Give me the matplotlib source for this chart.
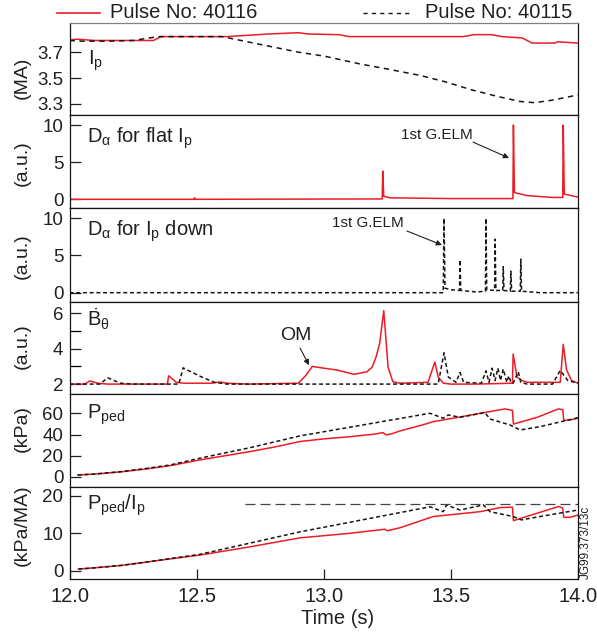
import matplotlib
matplotlib.use('Agg')
import matplotlib.pyplot as plt
from matplotlib.lines import Line2D

plt.rcParams['font.family'] = ['Liberation Sans', 'DejaVu Sans']
plt.rcParams['mathtext.fontset'] = 'custom'
plt.rcParams['mathtext.rm'] = 'Liberation Sans'
plt.rcParams['mathtext.it'] = 'Liberation Sans:italic'
plt.rcParams['mathtext.bf'] = 'Liberation Sans:bold'

RED = '#ed1c24'
BLK = '#151515'
TXT = '#231f20'

# ---- Ip (MA)
ip_40116_t = [12.0, 12.03, 12.10, 12.25, 12.33, 12.36, 12.62, 12.66, 12.74, 12.78, 12.84, 12.90,
              12.94, 13.06, 13.10, 13.55, 13.59, 13.66, 13.70, 13.78, 13.82, 13.91, 13.92, 14.0]
ip_40116_v = [3.795, 3.80, 3.79, 3.79, 3.79, 3.82, 3.82, 3.825, 3.835, 3.84, 3.845, 3.85,
              3.84, 3.835, 3.82, 3.82, 3.835, 3.835, 3.82, 3.81, 3.77, 3.77, 3.78, 3.77]
ip_40115_t = [12.0, 12.05, 12.15, 12.25, 12.35, 12.60, 12.70, 12.80, 12.90, 13.00, 13.14, 13.25,
              13.38, 13.48, 13.58, 13.68, 13.77, 13.83, 13.90, 14.0]
ip_40115_v = [3.79, 3.785, 3.785, 3.79, 3.82, 3.82, 3.78, 3.74, 3.70, 3.67, 3.61, 3.57,
              3.52, 3.47, 3.41, 3.36, 3.32, 3.31, 3.33, 3.37]

# ---- D alpha, flat Ip (40116)
da_flat_t = [12.0, 12.49, 12.492, 12.495, 13.23, 13.232, 13.236, 13.26, 13.50, 13.744, 13.746,
             13.75, 13.80, 13.90, 13.940, 13.942, 13.946, 13.96, 14.0]
da_flat_v = [0.0, 0.0, 0.2, 0.0, 0.05, 3.8, 0.4, 0.2, 0.1, 0.1, 10.0,
             0.9, 0.5, 0.25, 0.25, 10.0, 0.7, 0.6, 0.3]

# ---- D alpha, Ip down (40115)
da_down_t = [12.0, 13.470, 13.473, 13.477, 13.50, 13.534, 13.536, 13.539, 13.60, 13.636, 13.638,
             13.641, 13.672, 13.674, 13.677, 13.704, 13.706, 13.709, 13.734, 13.736, 13.739,
             13.773, 13.775, 13.778, 13.85, 14.0]
da_down_v = [0.0, 0.0, 10.0, 0.6, 0.4, 0.3, 4.4, 0.3, 0.1, 0.2, 10.0,
             0.4, 0.3, 7.2, 0.3, 0.3, 3.5, 0.3, 0.2, 2.9, 0.2,
             0.2, 4.5, 0.2, 0.0, 0.0]

# ---- B-dot theta (a.u.)
bd_40116_t = [12.0, 12.06, 12.08, 12.11, 12.15, 12.385, 12.39, 12.42, 12.45, 12.56, 12.59, 12.62,
              12.70, 12.90, 12.93, 12.955, 13.0, 13.05, 13.12, 13.17, 13.19, 13.205, 13.22, 13.236,
              13.253, 13.272, 13.30, 13.41, 13.437, 13.45, 13.47, 13.50, 13.60, 13.742, 13.745,
              13.76, 13.78, 13.80, 13.93, 13.942, 13.955, 13.975, 14.0]
bd_40116_v = [2.0, 2.0, 2.18, 2.05, 2.0, 2.0, 2.47, 2.1, 2.05, 2.05, 2.12, 2.05,
              2.0, 2.05, 2.5, 3.0, 2.9, 2.8, 2.55, 2.7, 2.95, 3.5, 4.3, 6.15,
              2.95, 2.13, 2.05, 2.1, 3.25, 2.4, 2.05, 2.0, 2.0, 2.05, 3.7,
              2.4, 2.2, 2.1, 2.1, 4.25, 2.8, 2.2, 2.05]
bd_40115_t = [12.0, 12.12, 12.15, 12.20, 12.25, 12.43, 12.447, 12.47, 12.52, 12.57, 12.62, 13.45,
              13.473, 13.49, 13.52, 13.536, 13.55, 13.62, 13.638, 13.65, 13.662, 13.674, 13.685,
              13.695, 13.706, 13.72, 13.728, 13.736, 13.745, 13.765, 13.775, 13.80, 13.90, 13.93,
              13.96, 14.0]
bd_40115_v = [2.0, 2.0, 2.36, 2.05, 2.0, 2.0, 2.92, 2.75, 2.4, 2.1, 2.0, 2.0,
              3.77, 2.4, 2.1, 2.66, 2.1, 2.05, 2.75, 2.1, 2.9, 2.2, 2.9,
              2.2, 2.85, 2.1, 2.47, 2.1, 2.05, 2.7, 2.1, 2.0, 2.0, 2.77,
              2.2, 2.05]

# ---- P_ped (kPa)
pp_40116_t = [12.033, 12.1, 12.2, 12.3, 12.395, 12.51, 12.61, 12.71, 12.81, 12.906, 13.0, 13.1,
              13.2, 13.233, 13.245, 13.27, 13.30, 13.40, 13.43, 13.52, 13.615, 13.713, 13.742,
              13.746, 13.84, 13.923, 13.940, 13.944, 13.97, 14.0]
pp_40116_v = [1.9, 2.8, 4.8, 7.5, 10.7, 16.0, 20.0, 24.0, 28.5, 33.5, 36.0, 38.0,
              40.5, 41.9, 39.7, 41.0, 43.5, 50.0, 52.3, 56.0, 60.2, 64.3, 63.0,
              50.0, 56.4, 64.3, 63.5, 53.5, 54.0, 55.5]
pp_40115_t = [12.033, 12.1, 12.2, 12.3, 12.395, 12.51, 12.71, 12.906, 13.418, 13.47, 13.49, 13.536,
              13.634, 13.654, 13.733, 13.772, 13.85, 14.0]
pp_40115_v = [1.9, 2.8, 5.0, 8.0, 11.3, 17.6, 27.7, 38.8, 60.2, 55.5, 58.6, 56.4,
              60.8, 54.8, 49.1, 44.4, 47.5, 56.0]

# ---- P_ped / Ip (kPa/MA)
pr_40116_t = [12.035, 12.1, 12.2, 12.3, 12.4, 12.513, 12.71, 12.906, 13.1, 13.24, 13.25, 13.30,
              13.43, 13.615, 13.694, 13.742, 13.746, 13.84, 13.91, 13.923, 13.940, 13.944, 13.97, 14.0]
pr_40116_v = [0.45, 0.8, 1.4, 2.3, 3.2, 4.2, 6.4, 8.8, 10.0, 11.1, 10.7, 11.5,
              14.5, 15.8, 16.9, 17.0, 13.4, 15.4, 16.9, 17.2, 16.8, 14.3, 14.3, 14.9]
pr_40115_t = [12.035, 12.1, 12.2, 12.3, 12.4, 12.513, 12.71, 12.906, 13.418, 13.47, 13.483, 13.536,
              13.628, 13.654, 13.745, 13.778, 13.85, 14.0]
pr_40115_v = [0.45, 0.8, 1.4, 2.3, 3.3, 4.4, 7.4, 10.4, 17.1, 15.8, 17.6, 16.25,
              17.6, 15.8, 14.5, 13.6, 14.5, 16.25]
pr_limit = 17.8
pr_limit_t = [12.69, 14.0]

W, H = 597, 641
fig = plt.figure(figsize=(W / 100, H / 100), dpi=100)

left, right = 69.5, 578
tops = [23, 115, 208, 302, 394, 487]
bots = [115, 208, 302, 394, 487, 579]
axes = []
for t, b in zip(tops, bots):
    ax = fig.add_axes([left / W, 1 - b / H, (right - left) / W, (b - t) / H])
    ax.set_xlim(12.0, 14.0)
    for s in ax.spines.values():
        s.set_linewidth(0.9)
        s.set_color(BLK)
    ax.tick_params(axis='y', direction='in', length=8, width=0.9, pad=4.5,
                   labelsize=13.5, colors=TXT)
    ax.tick_params(axis='y', which='minor', direction='in', length=8, width=0.9)
    ax.tick_params(axis='x', direction='in', length=7, width=0.9, pad=6,
                   labelsize=14.5, colors=TXT)
    axes.append(ax)

for ax in axes[:-1]:
    ax.tick_params(axis='x', bottom=False, labelbottom=False)
axes[0].spines['top'].set_color('#808080')

short = (0, (2.6, 1.8))
lw = 1.1
lab_fs = 14.5

# Ip
ax = axes[0]
ax.plot(ip_40116_t, ip_40116_v, color=RED, lw=lw)
ax.plot(ip_40115_t, ip_40115_v, color=BLK, lw=lw, ls=(0, (3.5, 3)))
ax.set_ylim(3.215, 3.925)
ax.set_yticks([3.3, 3.5, 3.7])
ax.set_yticklabels(['3.3', '3.5', '3.7'])
ax.text(0.036, 0.543, r'$\mathrm{I_p}$', transform=ax.transAxes, fontsize=lab_fs, color=TXT)

# D alpha flat
ax = axes[1]
ax.plot(da_flat_t, da_flat_v, color=RED, lw=lw)
ax.set_ylim(-1.17, 11.35)
ax.set_yticks([0, 5, 10])
ax.text(0.034, 0.706, r'$\mathrm{D_\alpha}$ for flat $\mathrm{I_p}$', transform=ax.transAxes,
        fontsize=lab_fs, color=TXT)
ax.text(13.445, 8.65, '1st G.ELM', ha='center', va='center', fontsize=11, color=TXT)
ax.annotate('', xy=(13.729, 5.56), xytext=(13.587, 7.7),
            arrowprops=dict(arrowstyle='-|>', lw=0.8, color=TXT, mutation_scale=8,
                            shrinkA=0, shrinkB=0))

# D alpha down
ax = axes[2]
ax.plot(da_down_t, da_down_v, color=BLK, lw=lw, ls=short)
ax.set_ylim(-1.25, 11.38)
ax.set_yticks([0, 5, 10])
ax.text(0.034, 0.705, r'$\mathrm{D_\alpha}$ for $\mathrm{I_p}$ down', transform=ax.transAxes,
        fontsize=lab_fs, color=TXT)
ax.text(13.174, 9.37, '1st G.ELM', ha='center', va='center', fontsize=11, color=TXT)
ax.annotate('', xy=(13.465, 6.41), xytext=(13.327, 8.29),
            arrowprops=dict(arrowstyle='-|>', lw=0.8, color=TXT, mutation_scale=8,
                            shrinkA=0, shrinkB=0))

# B dot theta
ax = axes[3]
ax.plot(bd_40116_t, bd_40116_v, color=RED, lw=lw)
ax.plot(bd_40115_t, bd_40115_v, color=BLK, lw=lw, ls=short)
ax.set_ylim(1.44, 6.64)
ax.set_yticks([2, 4, 6])
ax.set_yticks([3, 5], minor=True)
ax.text(0.034, 0.731, r'$\dot{\mathrm{B}}_{\mathrm{\theta}}$', transform=ax.transAxes,
        fontsize=lab_fs, color=TXT)
ax.text(12.891, 4.77, 'OM', ha='center', va='center', fontsize=14, color=TXT)
ax.annotate('', xy=(12.942, 3.07), xytext=(12.907, 4.03),
            arrowprops=dict(arrowstyle='-|>', lw=0.8, color=TXT, mutation_scale=8,
                            shrinkA=0, shrinkB=0))

# P_ped
ax = axes[4]
ax.plot(pp_40116_t, pp_40116_v, color=RED, lw=lw)
ax.plot(pp_40115_t, pp_40115_v, color=BLK, lw=lw, ls=short)
ax.set_ylim(-9.45, 78.4)
ax.set_yticks([0, 20, 40, 60])
ax.text(0.034, 0.731, r'$\mathrm{P_{ped}}$', transform=ax.transAxes, fontsize=lab_fs, color=TXT)

# P_ped / Ip
ax = axes[5]
ax.plot(pr_40116_t, pr_40116_v, color=RED, lw=lw)
ax.plot(pr_40115_t, pr_40115_v, color=BLK, lw=lw, ls=short)
ax.plot(pr_limit_t, [pr_limit, pr_limit], color='#444444', lw=0.9, ls=(0, (8, 4)))
ax.set_ylim(-2.2, 22.4)
ax.set_yticks([0, 10, 20])
ax.text(0.034, 0.75, r'$\mathrm{P_{ped}/I_p}$', transform=ax.transAxes, fontsize=lab_fs, color=TXT)
ax.set_xticks([12.0, 12.5, 13.0, 13.5, 14.0])
ax.set_xticklabels(['12.0', '12.5', '13.0', '13.5', '14.0'])

# y units
units = ['(MA)', '(a.u.)', '(a.u.)', '(a.u.)', '(kPa)', '(kPa/MA)']
unit_y = [78, 163.5, 256.5, 346, 428.5, 525]
for u, y in zip(units, unit_y):
    fig.text(22 / W, 1 - y / H, u, rotation=90, ha='center', va='center',
             fontsize=14, color=TXT)

fig.text(338 / W, 1 - 619 / H, 'Time (s)', ha='center', va='center', fontsize=14.5, color=TXT)
fig.text(586 / W, 1 - 542 / H, 'JG99.373/13c', rotation=90, ha='center', va='center',
         fontsize=8.5, color=TXT)

# legend
fig.add_artist(Line2D([57 / W, 100 / W], [1 - 13 / H, 1 - 13 / H], color=RED, lw=1.2))
fig.text(110 / W, 1 - 13 / H, 'Pulse No: 40116', ha='left', va='center', fontsize=14.5, color=TXT)
fig.add_artist(Line2D([363 / W, 413 / W], [1 - 13 / H, 1 - 13 / H], color=BLK, lw=1.0,
                      ls=(0, (3, 3))))
fig.text(425 / W, 1 - 13 / H, 'Pulse No: 40115', ha='left', va='center', fontsize=14.5, color=TXT)

fig.savefig('out.png', dpi=100)
